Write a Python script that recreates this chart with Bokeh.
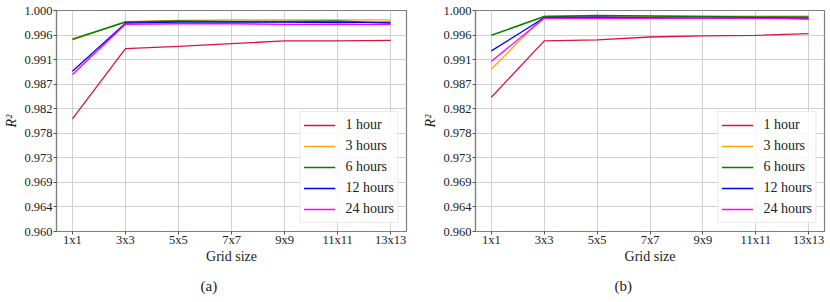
from bokeh.plotting import figure
from bokeh.layouts import row
from bokeh.models import FixedTicker, PrintfTickFormatter, Legend, LegendItem, Title, Range1d
from bokeh.embed import file_html
from bokeh.resources import INLINE
import numpy as np

grid_sizes = ["1x1", "3x3", "5x5", "7x7", "9x9", "11x11", "13x13"]
series_names = ["1 hour", "3 hours", "6 hours", "12 hours", "24 hours"]
series_colors = ["#DC143C", "#FFA500", "#008000", "#0000FF", "#FF00FF"]
series_widths = [1.3, 1.3, 1.6, 1.3, 1.3]

# panel (a)
a_1h = [0.9804, 0.9931, 0.9935, 0.9940, 0.9945, 0.9945, 0.9946]
a_3h = [0.9947, 0.9980, 0.9982, 0.9983, 0.9983, 0.9983, 0.9983]
a_6h = [0.9948, 0.9979, 0.9981, 0.9980, 0.9980, 0.9981, 0.9977]
a_12h = [0.9890, 0.9977, 0.9979, 0.9979, 0.9979, 0.9978, 0.9979]
a_24h = [0.9884, 0.9975, 0.9976, 0.9976, 0.9975, 0.9975, 0.9975]

# panel (b)
b_1h = [0.9843, 0.9945, 0.9947, 0.9952, 0.9954, 0.9955, 0.9958]
b_3h = [0.9894, 0.9990, 0.9990, 0.9990, 0.9990, 0.9990, 0.9990]
b_6h = [0.9955, 0.9989, 0.9991, 0.9990, 0.9989, 0.9988, 0.9988]
b_12h = [0.9927, 0.9987, 0.9988, 0.9987, 0.9986, 0.9987, 0.9985]
b_24h = [0.9908, 0.9986, 0.9986, 0.9986, 0.9986, 0.9986, 0.9985]

y_min, y_max, n_yticks = 0.960, 1.000, 10
x_label = "Grid size"
y_label = "R²"

FONT = "'Liberation Serif', serif"
GRID = "#d0d0d0"
SPINE = "#7f7f7f"


def make_panel(series, caption, width, bl, br, cap_offset):
    xs = list(range(len(grid_sizes)))
    p = figure(width=width, height=302, output_backend="svg", toolbar_location=None,
               x_range=Range1d(-0.3, len(grid_sizes) - 0.7),
               y_range=Range1d(y_min, y_max),
               min_border_left=bl, min_border_right=br, min_border_top=10,
               min_border_bottom=71)
    p.outline_line_color = SPINE
    p.outline_line_width = 1.2
    p.background_fill_color = "white"
    p.border_fill_color = "white"

    p.xaxis.ticker = FixedTicker(ticks=xs)
    p.xaxis.major_label_overrides = {i: g for i, g in enumerate(grid_sizes)}
    p.yaxis.ticker = FixedTicker(ticks=list(np.linspace(y_min, y_max, n_yticks)))
    p.yaxis.formatter = PrintfTickFormatter(format="%.3f")

    for ax in (p.xaxis[0], p.yaxis[0]):
        ax.axis_line_color = SPINE
        ax.axis_line_width = 1.2
        ax.major_tick_line_color = "#555555"
        ax.major_tick_out = 3
        ax.major_tick_in = 0
        ax.minor_tick_line_color = None
        ax.major_label_text_font = FONT
        ax.major_label_text_font_size = "12.5px"
        ax.major_label_text_color = "#222222"
        ax.axis_label_text_font = FONT
        ax.axis_label_text_font_size = "14px"
        ax.axis_label_text_font_style = "normal"
        ax.axis_label_text_color = "#222222"
    p.xaxis.major_label_standoff = -2
    p.xaxis.axis_label_standoff = -1
    p.xaxis.axis_label = x_label
    p.yaxis.axis_label = y_label
    p.yaxis.axis_label_text_font_style = "italic"
    p.yaxis.axis_label_standoff = 2
    p.yaxis.major_label_standoff = 1

    p.xgrid.grid_line_color = GRID
    p.ygrid.grid_line_color = GRID
    p.xgrid.ticker = FixedTicker(ticks=xs)
    p.ygrid.ticker = FixedTicker(ticks=list(np.linspace(y_min, y_max, n_yticks)))

    items = []
    for name, vals, col, lw in zip(series_names, series, series_colors, series_widths):
        r = p.line(xs, vals, line_color=col, line_width=lw)
        items.append(LegendItem(label=name, renderers=[r]))

    leg = Legend(items=items, location="bottom_right")
    leg.margin = 8
    leg.padding = 3
    leg.spacing = 1
    leg.label_height = 20
    leg.glyph_height = 20
    leg.glyph_width = 32
    leg.label_standoff = 10
    leg.label_text_font = FONT
    leg.label_text_font_size = "14px"
    leg.label_text_color = "#222222"
    leg.border_line_color = "#d8d8d8"
    leg.border_line_width = 1
    leg.background_fill_color = "white"
    leg.background_fill_alpha = 0.85
    p.add_layout(leg, "center")

    cap = Title(text=caption, align="left", offset=cap_offset, standoff=18,
                text_font=FONT, text_font_size="15px", text_font_style="normal",
                text_color="#222222")
    p.add_layout(cap, "below")
    return p


p1 = make_panel([a_1h, a_3h, a_6h, a_12h, a_24h], "(a)", 415, 56, 9, 144)
p2 = make_panel([b_1h, b_3h, b_6h, b_12h, b_24h], "(b)", 415, 60, 6, 139)

layout = row(p1, p2)
open("out.html", "w").write(file_html(layout, INLINE))
